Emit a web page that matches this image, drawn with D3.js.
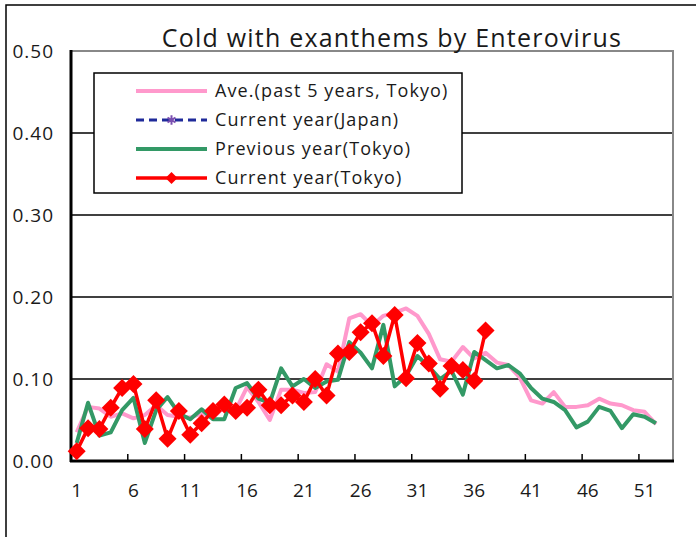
<!DOCTYPE html>
<html lang="en">
<head>
<meta charset="UTF-8">
<title>Cold with exanthems by Enterovirus</title>
<script src="https://cdn.jsdelivr.net/npm/d3@7"></script>
<style>
  body { margin: 0; background: #fff; }
  text { font-family: "Open Sans", "DejaVu Sans", sans-serif; fill: #1a1a1a; }
</style>
</head>
<body>
<script>
// weeks 1..53
var weeks = d3.range(1, 54);
var tickWeeks = [1, 6, 11, 16, 21, 26, 31, 36, 41, 46, 51];
var yTicks = [0, 0.1, 0.2, 0.3, 0.4, 0.5];

// Ave.(past 5 years, Tokyo)
var ave = [0.035, 0.066, 0.064, 0.054, 0.058, 0.052, 0.056, 0.068, 0.056, 0.054,
           0.053, 0.058, 0.053, 0.066, 0.062, 0.090, 0.072, 0.050, 0.087, 0.087,
           0.083, 0.084, 0.118, 0.109, 0.174, 0.179, 0.165, 0.177, 0.181, 0.186,
           0.177, 0.155, 0.124, 0.121, 0.139, 0.125, 0.132, 0.120, 0.117, 0.102,
           0.074, 0.070, 0.084, 0.066, 0.066, 0.068, 0.076, 0.070, 0.068, 0.062,
           0.060, 0.045];
// Current year (Japan) - no data plotted
var japan = [];
// Previous year (Tokyo)
var prev = [0.022, 0.071, 0.031, 0.035, 0.062, 0.077, 0.022, 0.062, 0.078, 0.058,
            0.051, 0.063, 0.051, 0.051, 0.089, 0.095, 0.076, 0.071, 0.113, 0.091,
            0.100, 0.089, 0.097, 0.099, 0.145, 0.132, 0.113, 0.166, 0.091, 0.104,
            0.128, 0.115, 0.100, 0.110, 0.081, 0.133, 0.123, 0.113, 0.117, 0.107,
            0.089, 0.076, 0.072, 0.062, 0.041, 0.048, 0.066, 0.061, 0.040, 0.057,
            0.054, 0.046];
// Current year (Tokyo)
var curr = [0.012, 0.040, 0.039, 0.065, 0.089, 0.094, 0.039, 0.074, 0.027, 0.061,
            0.032, 0.046, 0.061, 0.069, 0.061, 0.065, 0.087, 0.068, 0.068, 0.080,
            0.072, 0.100, 0.080, 0.131, 0.133, 0.157, 0.168, 0.128, 0.178, 0.101,
            0.144, 0.119, 0.088, 0.116, 0.111, 0.098, 0.159];

var W = 696, H = 537;
var m = {left: 71, right: 673, top: 51, bottom: 461};

var svg = d3.select("body").append("svg").attr("width", W).attr("height", H);

// outer chart border
svg.append("rect").attr("x", 6).attr("y", 5).attr("width", 720).attr("height", 600)
    .attr("fill", "#fff").attr("stroke", "#000").attr("stroke-width", 1.5);

var x = d3.scaleBand().domain(weeks).range([m.left, m.right]).padding(0);
var y = d3.scaleLinear().domain([0, 0.5]).range([m.bottom, m.top]);
var cx = function(w) { return x(w) + x.bandwidth() / 2; };

// gridlines
svg.append("g").selectAll("line").data(yTicks.slice(1, 5)).enter().append("line")
    .attr("x1", m.left).attr("x2", m.right)
    .attr("y1", function(d) { return y(d); }).attr("y2", function(d) { return y(d); })
    .attr("stroke", "#000").attr("stroke-width", 1.5);
// top and right border (gray)
svg.append("path")
    .attr("d", "M" + m.left + "," + y(0.5) + "H" + m.right + "V" + m.bottom)
    .attr("fill", "none").attr("stroke", "#888").attr("stroke-width", 2);

// y labels
svg.append("g").selectAll("text").data(yTicks).enter().append("text")
    .attr("x", 54).attr("y", function(d) { return y(d); })
    .attr("dy", "0.36em").attr("text-anchor", "end")
    .style("font-size", "19px").style("letter-spacing", "1px")
    .text(function(d) { return d.toFixed(2); });

// x tick marks at band boundaries, pointing in
svg.append("g").selectAll("line").data(tickWeeks.slice(1)).enter().append("line")
    .attr("x1", function(d) { return x(d); }).attr("x2", function(d) { return x(d); })
    .attr("y1", m.bottom).attr("y2", m.bottom - 7)
    .attr("stroke", "#000").attr("stroke-width", 1.5);
svg.append("g").selectAll("text").data(tickWeeks).enter().append("text")
    .attr("x", function(d) { return cx(d); }).attr("y", 497)
    .attr("text-anchor", "middle").style("font-size", "19px")
    .text(function(d) { return d; });

// axes lines
svg.append("line").attr("x1", m.left).attr("x2", m.left).attr("y1", m.top - 1).attr("y2", m.bottom + 1)
    .attr("stroke", "#000").attr("stroke-width", 3);
svg.append("line").attr("x1", m.left - 1).attr("x2", m.right + 1).attr("y1", m.bottom).attr("y2", m.bottom)
    .attr("stroke", "#000").attr("stroke-width", 3);

var line = d3.line()
    .x(function(d, i) { return cx(weeks[i]); })
    .y(function(d) { return y(d); });

svg.append("path").datum(ave).attr("d", line)
    .attr("fill", "none").attr("stroke", "#ff99cc").attr("stroke-width", 4).attr("stroke-linejoin", "round");
svg.append("path").datum(prev).attr("d", line)
    .attr("fill", "none").attr("stroke", "#339966").attr("stroke-width", 4).attr("stroke-linejoin", "round");
svg.append("path").datum(japan).attr("d", line)
    .attr("fill", "none").attr("stroke", "#000080").attr("stroke-width", 3).attr("stroke-dasharray", "8,5");
svg.append("path").datum(curr).attr("d", line)
    .attr("fill", "none").attr("stroke", "#ff0000").attr("stroke-width", 3.5);

var diamond = "M0,-9L9,0L0,9L-9,0Z";
svg.append("g").selectAll("path").data(curr).enter().append("path")
    .attr("d", diamond).attr("fill", "#ff0000")
    .attr("transform", function(d, i) { return "translate(" + cx(weeks[i]) + "," + y(d) + ")"; });

// title
svg.append("text").attr("x", 392).attr("y", 47).attr("text-anchor", "middle")
    .style("font-size", "25px").style("letter-spacing", "1.2px")
    .text("Cold with exanthems by Enterovirus");

// legend
var lg = svg.append("g");
lg.append("rect").attr("x", 94).attr("y", 73).attr("width", 368).attr("height", 120)
    .attr("fill", "#fff").attr("stroke", "#000").attr("stroke-width", 1.5);
var names = ["Ave.(past 5 years, Tokyo)", "Current year(Japan)", "Previous year(Tokyo)", "Current year(Tokyo)"];
var rowY = [91, 120, 149, 178];
var lx1 = 136, lx2 = 207;
lg.append("line").attr("x1", lx1).attr("x2", lx2).attr("y1", rowY[0]).attr("y2", rowY[0])
    .attr("stroke", "#ff99cc").attr("stroke-width", 4);
lg.append("line").attr("x1", lx1).attr("x2", lx2).attr("y1", rowY[1]).attr("y2", rowY[1])
    .attr("stroke", "#1f2a9a").attr("stroke-width", 3).attr("stroke-dasharray", "8,5");
lg.append("path").attr("d", d3.symbol().type(d3.symbolAsterisk).size(60)())
    .attr("transform", "translate(" + (lx1 + lx2) / 2 + "," + rowY[1] + ")")
    .attr("stroke", "#7a4fb0").attr("stroke-width", 2).attr("fill", "none");
lg.append("line").attr("x1", lx1).attr("x2", lx2).attr("y1", rowY[2]).attr("y2", rowY[2])
    .attr("stroke", "#339966").attr("stroke-width", 4);
lg.append("line").attr("x1", lx1).attr("x2", lx2).attr("y1", rowY[3]).attr("y2", rowY[3])
    .attr("stroke", "#ff0000").attr("stroke-width", 3.5);
lg.append("path").attr("d", "M0,-6L6,0L0,6L-6,0Z").attr("fill", "#ff0000")
    .attr("transform", "translate(" + (lx1 + lx2) / 2 + "," + rowY[3] + ")");
lg.selectAll("text.lab").data(names).enter().append("text").attr("class", "lab")
    .attr("x", 215).attr("y", function(d, i) { return rowY[i]; }).attr("dy", "0.35em")
    .style("font-size", "18px").style("letter-spacing", "1.1px")
    .text(function(d) { return d; });
</script>
</body>
</html>
